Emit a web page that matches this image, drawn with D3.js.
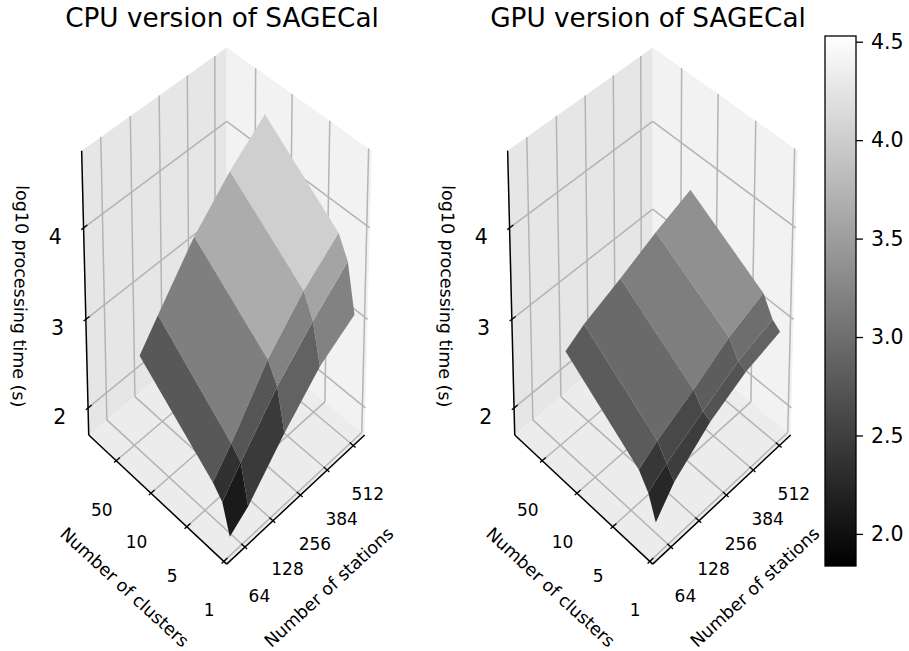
<!DOCTYPE html>
<meta charset="utf-8">
<style>
body { margin: 0; background: #fff; }
text { font-family: "DejaVu Sans", sans-serif; fill: #000; }
.grid { stroke: #b4b4b4; stroke-width: 1.5px; fill: none; }
.axis { stroke: #000; stroke-width: 1.5px; fill: none; }
.mark { stroke: #000; stroke-width: 1.3px; }
</style>
<body>
<script src="https://d3js.org/d3.v7.min.js"></script>
<script>
const clusters = [1, 5, 10, 50];
const stations = [64, 128, 256, 384, 512];

// log10 processing time, one row per cluster count
const cpuTimes = [
  [1.86, 2.01, 2.46, 2.85, 3.09],
  [2.17, 2.42, 2.90, 3.28, 3.61],
  [2.29, 2.54, 3.11, 3.53, 3.84],
  [2.97, 3.25, 3.79, 4.20, 4.53]
];
const gpuTimes = [
  [2.02, 2.28, 2.59, 2.79, 2.90],
  [2.27, 2.41, 2.63, 2.84, 2.97],
  [2.43, 2.57, 2.78, 3.02, 3.18],
  [3.02, 3.15, 3.33, 3.53, 3.70]
];

const clusterTicks = [0, 20, 40, 60];
const clusterTickLabels = ["1", "5", "10", "50"];
const stationTicks = [100, 200, 300, 400, 500];
const stationTickLabels = ["64", "128", "256", "384", "512"];
const zTicks = [2, 3, 4];
const colorTicks = [2.0, 2.5, 3.0, 3.5, 4.0, 4.5];

const clusterLim = [-1.56, 76.3];
const stationLim = [36.6, 544];
const zLim = [1.688, 4.82];
const colorLim = [1.837, 4.529];

const px = d3.scaleLinear().domain(clusterLim).range([0, 1]);
const py = d3.scaleLinear().domain(stationLim).range([0, 1]);
const pz = d3.scaleLinear().domain(zLim).range([-0.5, 0.5]);
const gray = d3.scaleLinear().domain(colorLim).range([0, 255]).clamp(true);
const color = v => { const g = Math.round(gray(v)); return `rgb(${g},${g},${g})`; };

// mplot3d camera: elev 30, eye on the diagonal, dist 10
const cosE = Math.cos(Math.PI / 6), sinE = Math.sin(Math.PI / 6), r2 = Math.SQRT1_2;
const sx = 200, sy = 328, cy = 296.4;

function view(p, q, w) {
  const d = r2 * (1 - p - q), h = r2 * (q - p);
  const depth = d * cosE + w * sinE;
  const k = 1 - depth / 10;
  return { x: sx * h / k, y: cy - sy * (w * cosE - d * sinE) / k, depth };
}

const svg = d3.select("body").append("svg").attr("width", 909).attr("height", 651);

function drawPanel(x0, title, times) {
  const g = svg.append("g").attr("transform", `translate(${x0},0)`);
  const pt = (p, q, w) => { const v = view(p, q, w); return [v.x, v.y]; };
  const line = d3.line();

  const poly = (pts, fill) => g.append("path").attr("d", line(pts) + "Z").attr("fill", fill);
  poly([pt(1, 0, -.5), pt(1, 1, -.5), pt(1, 1, .5), pt(1, 0, .5)], "#e6e6e6");
  poly([pt(0, 1, -.5), pt(1, 1, -.5), pt(1, 1, .5), pt(0, 1, .5)], "#f2f2f2");
  poly([pt(0, 0, -.5), pt(1, 0, -.5), pt(1, 1, -.5), pt(0, 1, -.5)], "#ececec");

  const seg = (a, b, cls) => g.append("path").attr("class", cls).attr("d", line([a, b]));

  clusterTicks.forEach(t => {
    const p = px(t);
    seg(pt(p, 0, -.5), pt(p, 1, -.5), "grid");
    seg(pt(p, 1, -.5), pt(p, 1, .5), "grid");
  });
  stationTicks.forEach(t => {
    const q = py(t);
    seg(pt(0, q, -.5), pt(1, q, -.5), "grid");
    seg(pt(1, q, -.5), pt(1, q, .5), "grid");
  });
  zTicks.forEach(t => {
    const w = pz(t);
    seg(pt(1, 0, w), pt(1, 1, w), "grid");
    seg(pt(1, 1, w), pt(0, 1, w), "grid");
  });

  // axis lines
  seg(pt(0, 0, -.5), pt(1, 0, -.5), "axis");
  seg(pt(0, 0, -.5), pt(0, 1, -.5), "axis");
  seg(pt(1, 0, -.5), pt(1, 0, .5), "axis");

  // ticks and their labels
  clusterTicks.forEach((t, i) => {
    const p = px(t), b = pt(p, 0, -.5);
    seg(pt(p, -.015, -.5), pt(p, .025, -.5), "mark");
    g.append("text").attr("x", b[0] - 14.5).attr("y", b[1] + 49).attr("dy", ".36em")
      .attr("text-anchor", "middle").style("font-size", "17px").text(clusterTickLabels[i]);
  });
  stationTicks.forEach((t, i) => {
    const q = py(t), b = pt(0, q, -.5);
    seg(pt(-.015, q, -.5), pt(.025, q, -.5), "mark");
    g.append("text").attr("x", b[0] + 14.5).attr("y", b[1] + 48.5).attr("dy", ".36em")
      .attr("text-anchor", "middle").style("font-size", "17px").text(stationTickLabels[i]);
  });
  zTicks.forEach(t => {
    const w = pz(t), b = pt(1, 0, w);
    seg(pt(1, -.015, w), pt(1, .025, w), "mark");
    g.append("text").attr("x", b[0] - 28.3).attr("y", b[1] + 8.5).attr("dy", ".36em")
      .attr("text-anchor", "middle").style("font-size", "20.5px").text(t);
  });

  // surface facets, far ones first
  const facets = [];
  for (let i = 0; i < clusters.length - 1; i++) {
    for (let j = 0; j < stations.length - 1; j++) {
      const corners = [[i, j], [i + 1, j], [i + 1, j + 1], [i, j + 1]];
      const views = corners.map(c => view(px(clusters[c[0]]), py(stations[c[1]]), pz(times[c[0]][c[1]])));
      facets.push({
        pts: views.map(v => [v.x, v.y]),
        depth: d3.mean(views, v => v.depth),
        z: d3.mean(corners, c => times[c[0]][c[1]])
      });
    }
  }
  facets.sort((a, b) => d3.ascending(a.depth, b.depth));
  g.selectAll(".facet").data(facets).enter().append("path")
    .attr("class", "facet")
    .attr("d", d => line(d.pts) + "Z")
    .attr("fill", d => color(d.z));

  // titles and axis names
  g.append("text").attr("x", -4.7).attr("y", 26.5).attr("text-anchor", "middle")
    .style("font-size", "26.3px").text(title);
  g.append("text").attr("transform", "translate(-206,296.3) rotate(91)")
    .attr("text-anchor", "middle").attr("dy", ".36em").style("font-size", "17.5px")
    .text("log10 processing time (s)");
  g.append("text").attr("transform", "translate(-102,587) rotate(42.5)")
    .attr("text-anchor", "middle").attr("dy", ".36em").style("font-size", "17.5px")
    .text("Number of clusters");
  g.append("text").attr("transform", "translate(102,587) rotate(-42.5)")
    .attr("text-anchor", "middle").attr("dy", ".36em").style("font-size", "17.5px")
    .text("Number of stations");
}

drawPanel(226.7, "CPU version of SAGECal", cpuTimes);
drawPanel(652.7, "GPU version of SAGECal", gpuTimes);

// colour bar
const barX = 825, barW = 31, barTop = 36, barBottom = 566;
const cb = d3.scaleLinear().domain(colorLim).range([barBottom, barTop]);
const defs = svg.append("defs").append("linearGradient").attr("id", "bar")
  .attr("x1", 0).attr("x2", 0).attr("y1", 1).attr("y2", 0);
defs.append("stop").attr("offset", 0).attr("stop-color", "#000");
defs.append("stop").attr("offset", 1).attr("stop-color", "#fff");
svg.append("rect").attr("x", barX).attr("y", barTop).attr("width", barW).attr("height", barBottom - barTop)
  .attr("fill", "url(#bar)").attr("stroke", "#000").attr("stroke-width", 1.3);
const cbAxis = svg.append("g").attr("transform", `translate(${barX + barW},0)`)
  .call(d3.axisRight(cb).tickValues(colorTicks).tickFormat(d3.format(".1f")).tickSize(7).tickPadding(8));
cbAxis.select(".domain").remove();
cbAxis.selectAll("line").attr("stroke-width", 1.3);
cbAxis.selectAll("text").style("font-size", "20.5px");
</script>
</body>
